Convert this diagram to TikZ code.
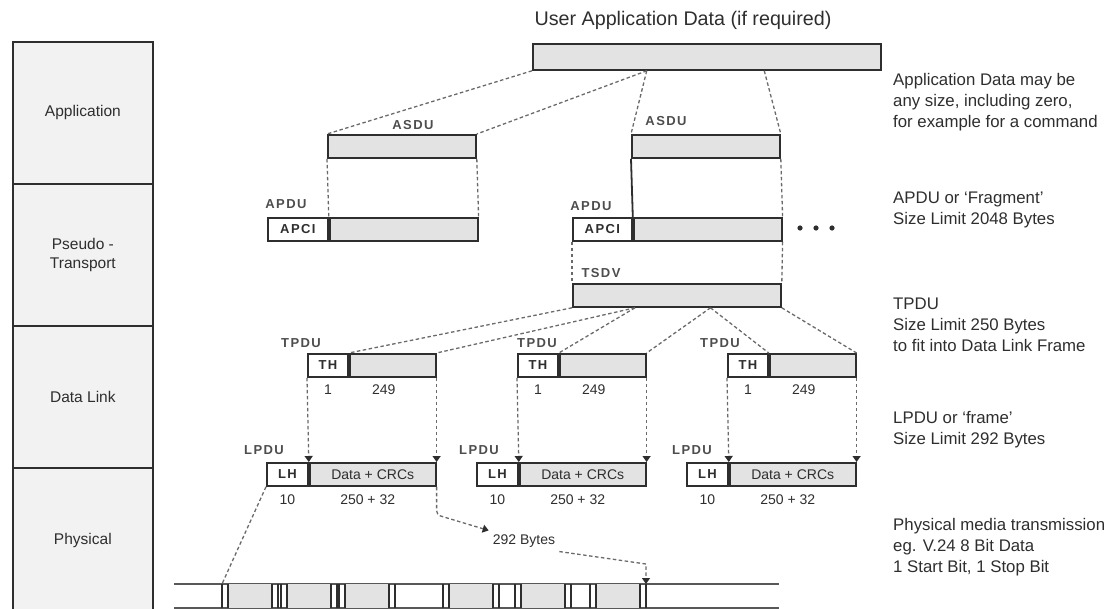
\documentclass[tikz,border=0pt]{standalone}
\usepackage{fontspec}
\setmainfont{Liberation Sans}
\newfontfamily\tagfamily[LetterSpace=11]{Liberation Sans}
\usetikzlibrary{arrows.meta, positioning, calc}

\definecolor{inkgray}{HTML}{2E2E2E}
\definecolor{linkgray}{HTML}{6A6A6A}
\definecolor{boxgray}{HTML}{E3E3E3}
\definecolor{layergray}{HTML}{F2F2F2}

\begin{document}
\begin{tikzpicture}[x=1pt, y=-1pt,
    % Layer column on the left
    layer/.style={draw=inkgray, fill=layergray, line width=1.7pt, minimum width=140pt, minimum height=142pt,
        anchor=north west, align=center, font=\fontsize{15.5}{19}\selectfont, text=inkgray},
    % PDU cells
    pdu/.style={draw=inkgray, fill=boxgray, line width=1.8pt, minimum height=23pt, inner sep=0pt,
        anchor=north west, font=\fontsize{14}{16}\selectfont, text=inkgray},
    hdr/.style={pdu, fill=white, font=\tagfamily\bfseries\fontsize{13}{14}\selectfont},
    % Labels
    tag/.style={font=\tagfamily\bfseries\fontsize{13}{14}\selectfont, inner sep=0pt, text=inkgray!85},
    num/.style={font=\fontsize{14}{16}\selectfont, inner sep=0pt, text=inkgray},
    note/.style={font=\fontsize{16.8}{21}\selectfont, align=left, anchor=north west, inner sep=0pt, text=inkgray},
    % Connectors
    link/.style={draw=linkgray, line width=1.3pt, dash pattern=on 3.5pt off 2.5pt},
    drop/.style={link, -{Triangle[width=8pt, length=6pt, color=inkgray]}},
    wire/.style={draw=inkgray!80, line width=1.6pt},
    bit/.style={draw=inkgray, line width=1.5pt}
]
\useasboundingbox (0,0) rectangle (1107,609);

% Layers
\node[layer] (application) at (12,41) {Application};
\node[layer] (transport) at (12,183) {Pseudo -\\Transport};
\node[layer] (datalink) at (12,325) {Data Link};
\node[layer, minimum height=146pt] (physical) at (12,467) {Physical};

% User data
\node[font=\fontsize{19.7}{22}\selectfont, text=inkgray, inner sep=0pt] (title) at (683,20) {User Application Data (if required)};
\node[pdu, minimum width=348pt, minimum height=26pt] (uad) at (532,43) {};
\coordinate (ucut1) at ($(uad.south west)!0.328!(uad.south east)$);
\coordinate (ucut2) at ($(uad.south west)!0.664!(uad.south east)$);

% ASDU
\node[pdu, minimum width=148pt] (asdu1) at (327,134) {};
\node[pdu, minimum width=148pt] (asdu2) at (631,134) {};
\node[tag] (asdulbl1) at (413,125) {ASDU};
\node[tag] (asdulbl2) at (666,121) {ASDU};

% APDU
\node[hdr, minimum width=60pt] (apci1) at (267,217) {APCI};
\node[pdu, minimum width=148pt] (apdu1) at (apci1.north east) {};
\node[hdr, minimum width=59pt] (apci2) at (572,217) {APCI};
\node[pdu, minimum width=148pt] (apdu2) at (apci2.north east) {};
\node[tag] (apdulbl1) at (286,204) {APDU};
\node[tag] (apdulbl2) at (591,206) {APDU};
\foreach \x in {800,816,832} \fill[inkgray] (\x,228) circle (2.6pt);

% TSDV
\node[pdu, minimum width=208pt] (tsdv) at (572,283) {};
\node[tag] (tsdvlbl) at (601,273) {TSDV};
\coordinate (tcut1) at ($(tsdv.south west)!0.3!(tsdv.south east)$);
\coordinate (tcut2) at ($(tsdv.south west)!0.66!(tsdv.south east)$);

% TPDU and LPDU frames
\foreach \i/\dx/\tx/\lx in {1/0/301/264, 2/210/537/479, 3/420/720/692} {
    \node[hdr, minimum width=40pt] (th\i) at (307+\dx,353) {TH};
    \node[pdu, minimum width=86pt] (tpdu\i) at (th\i.north east) {};
    \node[tag] (tpdulbl\i) at (\tx,343) {TPDU};
    \node[num, below=7pt of th\i] (thnum\i) {1};
    \node[num, below=7pt of tpdu\i, xshift=-9pt] (tdnum\i) {249};
    \node[hdr, minimum width=41pt] (lh\i) at (266+\dx,462) {LH};
    \node[pdu, minimum width=126pt] (lpdu\i) at (lh\i.north east) {Data + CRCs};
    \node[tag] (lpdulbl\i) at (\lx,450) {LPDU};
    \node[num, below=8pt of lh\i] (lhnum\i) {10};
    \node[num, below=8pt of lpdu\i, xshift=-5pt] (ldnum\i) {250 + 32};
    \draw[drop] (th\i.south west) -- (lh\i.north east);
    \draw[drop] (tpdu\i.south east) -- (lpdu\i.north east);
}

% Notes on the right
\node[note] (appnote) at (893,73) {Application Data may be\\any size, including zero,\\for example for a command};
\node[note] (apdunote) at (893,192) {APDU or `Fragment'\\Size Limit 2048 Bytes};
\node[note] (tpdunote) at (893,298) {TPDU\\Size Limit 250 Bytes\\to fit into Data Link Frame};
\node[note] (lpdunote) at (893,411) {LPDU or `frame'\\Size Limit 292 Bytes};
\node[note] (physnote) at (893,518) {Physical media transmission\\eg. V.24 8 Bit Data\\1 Start Bit, 1 Stop Bit};

% Physical line with bytes
\draw[wire] (174,584) -- (779,584);
\draw[wire] (174,608) -- (779,608);
\foreach \bx in {222,281,339,443,515,590} {
    \fill[boxgray] (\bx+6,584) rectangle (\bx+50,608);
    \foreach \t in {0,6,50,56} \draw[bit] (\bx+\t,584) -- (\bx+\t,608);
}
\coordinate (sof) at (222,584);
\coordinate (eof) at (646,584);
\node[num, inner sep=4pt] (bytes) at (524,541) {292 Bytes};

% Connectors
\draw[link] (uad.south west) -- (asdu1.north west);
\draw[link] (ucut1) -- (asdu1.north east);
\draw[link] (ucut1) -- (asdu2.north west);
\draw[link] (ucut2) -- (asdu2.north east);

\draw[link] (asdu1.south west) -- (apdu1.north west);
\draw[link] (asdu1.south east) -- (apdu1.north east);
\draw[draw=inkgray, line width=1.8pt] (asdu2.south west) -- (apdu2.north west);
\draw[link] (asdu2.south east) -- (apdu2.north east);

\draw[link] (apci2.south west) -- (tsdv.north west);
\draw[link] (apdu2.south east) -- (tsdv.north east);

\draw[link] (tsdv.south west) -- (tpdu1.north west);
\draw[link] (tcut1) -- (tpdu1.north east);
\draw[link] (tcut1) -- (tpdu2.north west);
\draw[link] (tcut2) -- (tpdu2.north east);
\draw[link] (tcut2) -- (tpdu3.north west);
\draw[link] (tsdv.south east) -- (tpdu3.north east);

\draw[link] (lh1.south west) -- (sof);
\draw[drop, rounded corners=4pt] (lpdu1.south east) -- ++(0,28) -- (bytes.north west);
\draw[drop] (bytes.south east) -- ($(eof)+(0,-20)$) -- (eof);

\end{tikzpicture}
\end{document}
